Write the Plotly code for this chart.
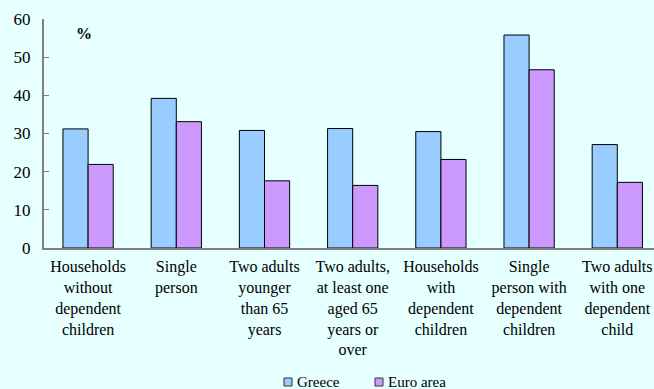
import plotly.graph_objects as go

categories = [
    "Households<br>without<br>dependent<br>children",
    "Single<br>person",
    "Two adults<br>younger<br>than 65<br>years",
    "Two adults,<br>at least one<br>aged 65<br>years or<br>over",
    "Households<br>with<br>dependent<br>children",
    "Single<br>person with<br>dependent<br>children",
    "Two adults<br>with one<br>dependent<br>child",
]
greece = [31.2, 39.2, 30.8, 31.3, 30.5, 55.8, 27.1]
euro_area = [21.9, 33.1, 17.6, 16.4, 23.2, 46.7, 17.2]
y_ticks = [0, 10, 20, 30, 40, 50, 60]
series_names = ["Greece", "Euro area"]

GREECE_COLOR = "#99CCFF"
EURO_COLOR = "#CC99FF"
BG = "#E6FFFF"
AXIS_GRAY = "#808080"
FONT = "Liberation Serif"

W, H = 654, 389
L, R, T, B = 44, 0, 19, 141
plot_w = W - L - R
plot_h = H - T - B

fig = go.Figure()
fig.add_trace(go.Bar(x=categories, y=greece, name=series_names[0],
                     marker=dict(color=GREECE_COLOR, line=dict(color="#000000", width=1))))
fig.add_trace(go.Bar(x=categories, y=euro_area, name=series_names[1],
                     marker=dict(color=EURO_COLOR, line=dict(color="#000000", width=1))))


def px_x(px):
    return (px - L) / plot_w


def px_y(py):
    return (H - B - py) / plot_h


# compact legend: small square key followed by the series name
for name, col, left in [(series_names[0], GREECE_COLOR, 284), (series_names[1], EURO_COLOR, 375)]:
    fig.add_shape(type="rect", xref="paper", yref="paper",
                  x0=px_x(left), x1=px_x(left + 8), y0=px_y(386), y1=px_y(378),
                  fillcolor=col, line=dict(color="#333333", width=1))
    fig.add_annotation(text=name, xref="paper", yref="paper", x=px_x(left + 11), y=px_y(382),
                       xanchor="left", yanchor="middle", showarrow=False,
                       font=dict(family=FONT, size=15, color="#000000"))

fig.add_annotation(text="<b>%</b>", x=px_x(84), y=px_y(33), xref="paper", yref="paper",
                   xanchor="center", yanchor="middle",
                   showarrow=False, font=dict(family=FONT, size=16, color="#000000"))

fig.update_layout(
    width=W, height=H,
    margin=dict(l=L, r=R, t=T, b=B, autoexpand=False),
    paper_bgcolor=BG, plot_bgcolor=BG,
    barmode="group", bargap=0.43, bargroupgap=0,
    showlegend=False,
    font=dict(family=FONT, size=16, color="#000000"),
    xaxis=dict(range=[-0.5, 6.416], showline=True, linecolor=AXIS_GRAY, linewidth=2,
               ticks="", tickangle=0, showgrid=False, zeroline=False, automargin=False,
               ticklabelstandoff=3, tickfont=dict(family=FONT, size=16)),
    yaxis=dict(range=[0, 60], tickvals=y_ticks, showline=True, linecolor=AXIS_GRAY, linewidth=2,
               ticks="inside", ticklen=5, tickcolor=AXIS_GRAY, tickwidth=1,
               showgrid=False, zeroline=False, automargin=False,
               ticklabelstandoff=8, tickfont=dict(family=FONT, size=17)),
)

fig.write_html("out.html")
